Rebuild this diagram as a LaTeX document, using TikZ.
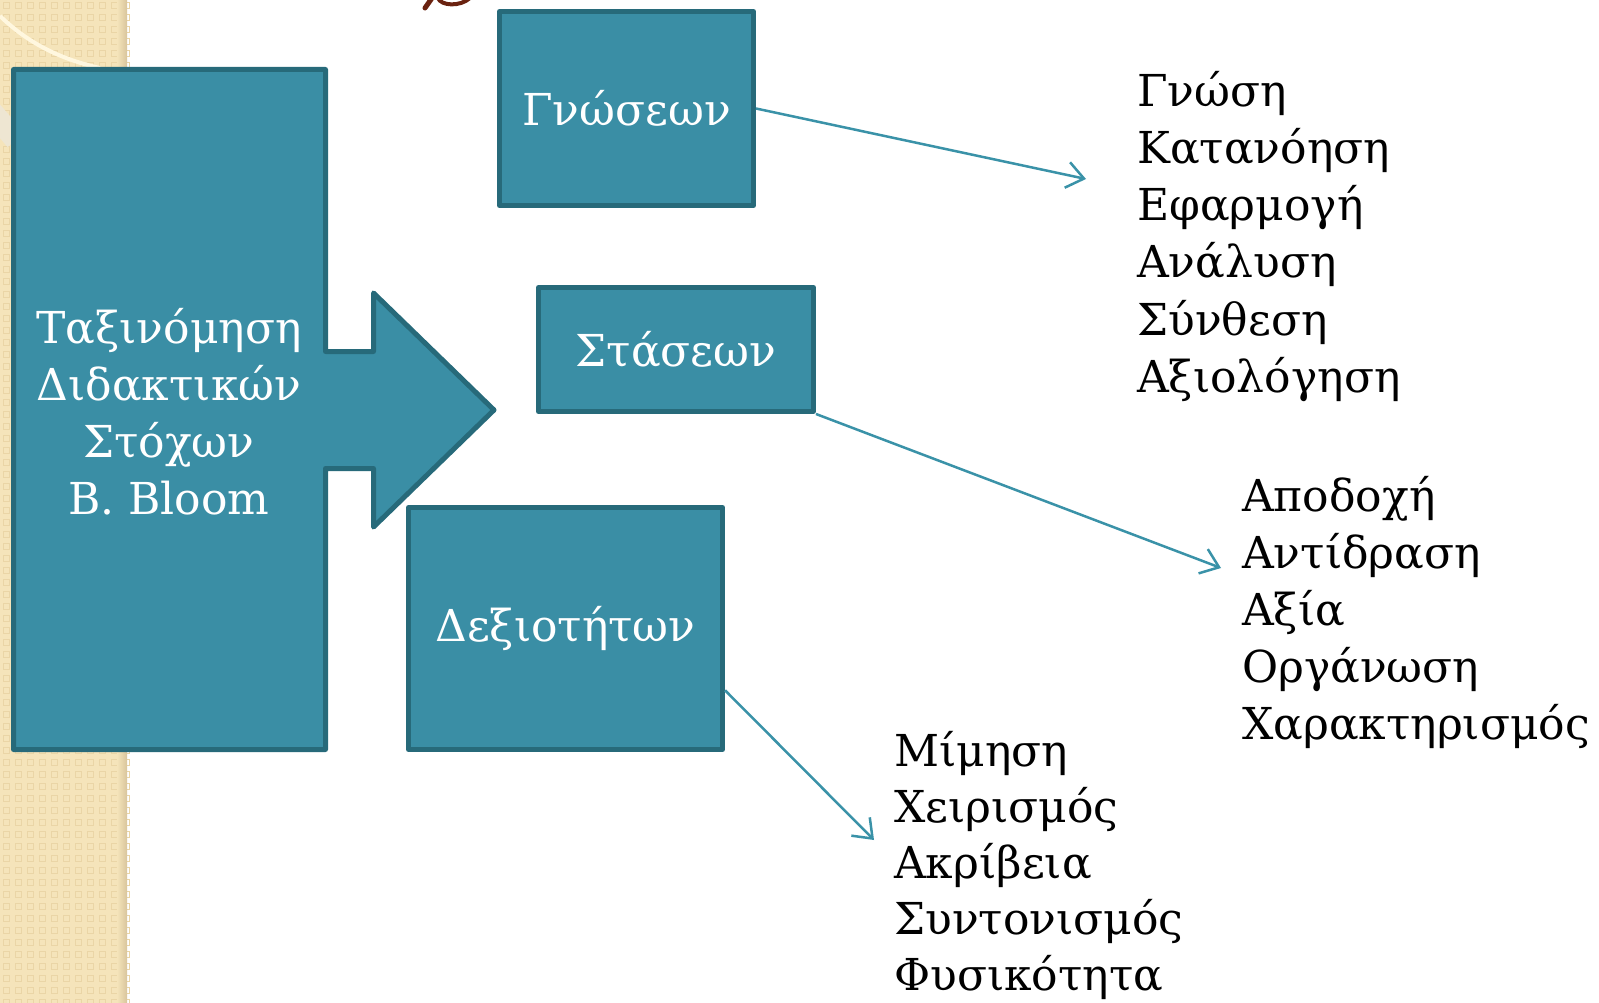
\documentclass[tikz,border=0pt]{standalone}
\usepackage{fontspec}
\setmainfont{DejaVu Serif}
\usetikzlibrary{arrows.meta,calc}
\definecolor{tealfill}{HTML}{3A8EA5}
\definecolor{tealedge}{HTML}{276A7A}
\definecolor{tealline}{HTML}{3A92A8}
\definecolor{beige}{HTML}{F5E4BA}
\definecolor{beigedark}{HTML}{EAD5A6}
\definecolor{beigeshadow}{HTML}{D8C59C}
\definecolor{cream}{HTML}{FFF7DF}
\definecolor{pale}{HTML}{EEE6D2}
\definecolor{titlebrown}{HTML}{6A2210}
\begin{document}
\begin{tikzpicture}[x=1pt,y=-1pt,
  txt/.style={font=\fontsize{44}{57}\selectfont},
  box/.style={draw=tealedge, fill=tealfill, line width=5pt, line join=round, inner sep=0pt, text=white, txt},
  link/.style={draw=tealline, line width=2.5pt, -{Straight Barb[length=17pt,width=26pt,line width=2.5pt]}},
  item/.style={anchor=base west, inner sep=0pt, txt}]
\useasboundingbox (0,0) rectangle (1599,1003);
\fill[white] (0,0) rectangle (1599,1003);
% beige side strip
\fill[beige] (0,0) rectangle (127,1003);
\foreach \i in {0,...,10}{
  \foreach \j in {0,...,83}{
    \draw[beigedark, line width=1pt] ({12*\i+3},{12*\j+3}) rectangle +(6,6);
  }
}
\shade[left color=beige, right color=beigeshadow] (117,0) rectangle (127,1003);
\draw[cream, line width=4pt] (0,16) .. controls (25,40) and (55,58) .. (100,68);
\draw[pale, line width=22pt] (-8,112) -- (16,140);
% brown fragment of the title
\draw[titlebrown, line width=5pt, line cap=round] (432,-2) -- (425,8);
\draw[titlebrown, line width=4pt, line cap=round] (438,-2) .. controls (441,6) and (460,7) .. (470,-2);
% big block arrow
\path[draw=tealedge, fill=tealfill, line width=5pt, line join=round]
  (13.5,69.5) -- (325.5,69.5) -- (325.5,351.5) -- (373.5,351.5) -- (373.5,293)
  -- (494,410) -- (373.5,527) -- (373.5,468.5) -- (325.5,468.5) -- (325.5,749.5)
  -- (13.5,749.5) -- cycle;
\node[txt, text=white, align=center, inner sep=0pt] (bloom) at (169,412)
  {Ταξινόμηση\\Διδακτικών\\Στόχων\\B. Bloom};
% boxes
\node[box, minimum width=254pt, minimum height=194pt] (g) at (626.5,108.5) {Γνώσεων};
\node[box, minimum width=275pt, minimum height=124pt] (s) at (676,349.5) {Στάσεων};
\node[box, minimum width=314pt, minimum height=242pt] (d) at (565.5,628.5) {Δεξιοτήτων};
% lists
\foreach \t [count=\k from 0] in {Γνώση,Κατανόηση,Εφαρμογή,Ανάλυση,Σύνθεση,Αξιολόγηση}{
  \node[item] (la\k) at (1137,{107+57*\k}) {\t};
}
\foreach \t [count=\k from 0] in {Αποδοχή,Αντίδραση,Αξία,Οργάνωση,Χαρακτηρισμός}{
  \node[item] (lb\k) at (1242,{511+57*\k}) {\t};
}
\foreach \t [count=\k from 0] in {Μίμηση,Χειρισμός,Ακρίβεια,Συντονισμός,Φυσικότητα}{
  \node[item] (lc\k) at (894,{766+56*\k}) {\t};
}
% connectors
\coordinate (e1) at (1086,179);
\coordinate (e2) at (1221,568);
\coordinate (e3) at (874,840);
\draw[link] (g.east) -- (e1);
\draw[link] (s.south east) -- (e2);
\draw[link] ($(d.south east)!0.25!(d.north east)$) -- (e3);
\end{tikzpicture}
\end{document}
